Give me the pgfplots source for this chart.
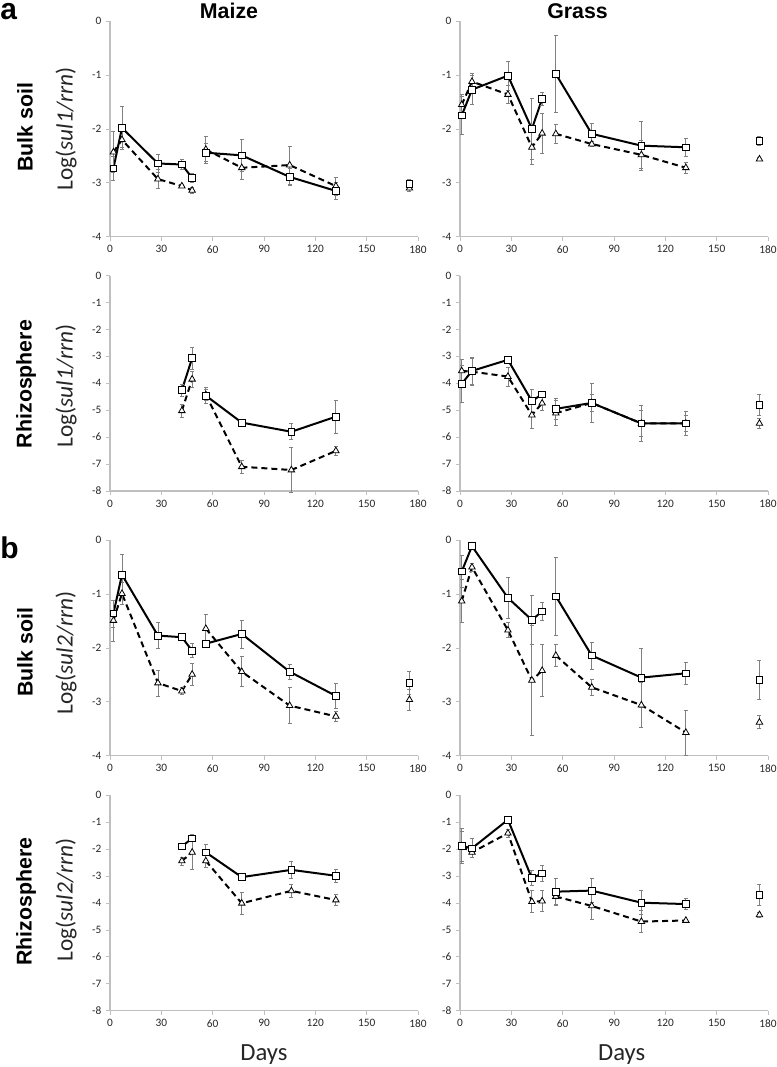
\documentclass[border=0pt]{standalone}
\usepackage{pgfplots}
\pgfplotsset{compat=1.18}
\usepackage{fontspec}
\setmainfont{Carlito}
\newfontfamily\arialf{Liberation Sans}
\definecolor{axgray}{HTML}{BFBFBF}
\definecolor{errgray}{HTML}{808080}
\definecolor{txt}{HTML}{262626}
\pgfplotsset{
  panel/.style={width=231pt,height=161.6pt,scale only axis,anchor=south west,
    xmin=0,xmax=180,xtick={0,30,...,180},
    axis lines*=left, axis line style={draw=axgray,line width=0.8pt},
    tick style={draw=axgray,line width=0.6pt}, tick align=outside, major tick length=3pt,
    ticklabel style={font=\fontsize{8.5}{10}\selectfont,text=txt},
    /pgf/number format/assume math mode=true,
    clip=false, unbounded coords=jump},
  r4/.style={ymin=-4,ymax=0,ytick={-4,...,0}},
  r8/.style={ymin=-8,ymax=0,ytick={-8,...,0}},
  sq/.style={black,line width=1.5pt,solid,mark=square*,
    mark options={solid,fill=white,draw=black,line width=0.6pt,mark size=2.5pt},
    error bars/.cd,y dir=both,y explicit,
    error bar style={errgray,line width=0.6pt,solid},
    error mark options={rotate=90,errgray,mark size=1.5pt,line width=0.6pt,solid}},
  tr/.style={black,line width=1.5pt,dash pattern=on 4.5pt off 3pt,mark=triangle*,
    mark options={solid,fill=white,draw=black,line width=0.6pt,mark size=2.8pt},
    error bars/.cd,y dir=both,y explicit,
    error bar style={errgray,line width=0.6pt,solid},
    error mark options={rotate=90,errgray,mark size=1.5pt,line width=0.6pt,solid}},
}
\begin{document}
\begin{tikzpicture}[x=0.75pt,y=0.75pt]
\path[use as bounding box] (0,0) rectangle (777,-1067);
% ---------- Row 1 left: Maize bulk sul1
\begin{axis}[panel,r4,at={(82.5pt,-177.525pt)}]
\addplot+[tr] table[x=x,y=y,y error=e,row sep=\\]{x y e\\
2 -2.43 0.38\\ 7 -2.20 0.15\\ 28 -2.93 0.18\\ 42 -3.06 0.03\\ 48 -3.14 0.06\\ 52 nan 0\\
56 -2.38 0.25\\ 77 -2.72 0.22\\ 105 -2.67 0.35\\ 132 -3.06 0.17\\ 150 nan 0\\ 175 -3.10 0.05\\};
\addplot+[sq] table[x=x,y=y,y error=e,row sep=\\]{x y e\\
2 -2.73 0.22\\ 7 -1.98 0.40\\ 28 -2.64 0.17\\ 42 -2.66 0.09\\ 48 -2.91 0.08\\ 52 nan 0\\
56 -2.44 0.17\\ 77 -2.49 0.29\\ 105 -2.89 0.15\\ 132 -3.15 0.15\\ 150 nan 0\\ 175 -3.02 0.08\\};
\end{axis}
% ---------- Row 1 right: Grass bulk sul1
\begin{axis}[panel,r4,at={(345pt,-177.525pt)}]
\addplot+[tr] table[x=x,y=y,y error=e,row sep=\\]{x y e\\
1 -1.55 0.20\\ 7 -1.12 0.16\\ 28 -1.36 0.16\\ 42 -2.34 0.32\\ 48 -2.08 0.37\\ 52 nan 0\\
56 -2.09 0.17\\ 77 -2.28 0.05\\ 106 -2.48 0.26\\ 132 -2.72 0.10\\ 150 nan 0\\ 175 -2.56 0.03\\};
\addplot+[sq] table[x=x,y=y,y error=e,row sep=\\]{x y e\\
1 -1.75 0.35\\ 7 -1.27 0.27\\ 28 -1.01 0.27\\ 42 -2.00 0.57\\ 48 -1.44 0.12\\ 52 nan 0\\
56 -0.98 0.72\\ 77 -2.09 0.20\\ 106 -2.31 0.45\\ 132 -2.34 0.16\\ 150 nan 0\\ 175 -2.22 0.08\\};
\end{axis}
% ---------- Row 2 left: Maize rhizo sul1
\begin{axis}[panel,r8,at={(82.5pt,-368.25pt)}]
\addplot+[tr] table[x=x,y=y,y error=e,row sep=\\]{x y e\\
42 -5.02 0.25\\ 48 -3.85 0.30\\ 52 nan 0\\ 56 -4.43 0.20\\ 77 -7.10 0.25\\ 106 -7.22 0.85\\ 132 -6.51 0.15\\};
\addplot+[sq] table[x=x,y=y,y error=e,row sep=\\]{x y e\\
42 -4.25 0.22\\ 48 -3.07 0.42\\ 52 nan 0\\ 56 -4.46 0.30\\ 77 -5.46 0.12\\ 106 -5.80 0.30\\ 132 -5.24 0.62\\};
\end{axis}
% ---------- Row 2 right: Grass rhizo sul1
\begin{axis}[panel,r8,at={(345pt,-368.25pt)}]
\addplot+[tr] table[x=x,y=y,y error=e,row sep=\\]{x y e\\
1 -3.54 0.42\\ 7 -3.57 0.50\\ 28 -3.75 0.35\\ 42 -5.18 0.50\\ 48 -4.74 0.25\\ 52 nan 0\\
56 -5.11 0.47\\ 77 -4.73 0.30\\ 106 -5.49 0.50\\ 132 -5.49 0.30\\ 150 nan 0\\ 175 -5.49 0.18\\};
\addplot+[sq] table[x=x,y=y,y error=e,row sep=\\]{x y e\\
1 -4.02 0.70\\ 7 -3.54 0.50\\ 28 -3.13 0.04\\ 42 -4.66 0.45\\ 48 -4.41 0.06\\ 52 nan 0\\
56 -4.95 0.40\\ 77 -4.73 0.72\\ 106 -5.49 0.67\\ 132 -5.49 0.45\\ 150 nan 0\\ 175 -4.80 0.38\\};
\end{axis}
% ---------- Row 3 left: Maize bulk sul2
\begin{axis}[panel,r4,at={(82.5pt,-566.775pt)}]
\addplot+[tr] table[x=x,y=y,y error=e,row sep=\\]{x y e\\
2 -1.49 0.38\\ 7 -0.99 0.20\\ 28 -2.65 0.24\\ 42 -2.80 0.07\\ 48 -2.49 0.20\\ 52 nan 0\\
56 -1.64 0.26\\ 77 -2.44 0.28\\ 105 -3.07 0.33\\ 132 -3.27 0.10\\ 150 nan 0\\ 175 -2.96 0.20\\};
\addplot+[sq] table[x=x,y=y,y error=e,row sep=\\]{x y e\\
2 -1.36 0.25\\ 7 -0.64 0.38\\ 28 -1.77 0.24\\ 42 -1.80 0.05\\ 48 -2.05 0.13\\ 52 nan 0\\
56 -1.92 0.03\\ 77 -1.74 0.26\\ 105 -2.44 0.14\\ 132 -2.89 0.24\\ 150 nan 0\\ 175 -2.65 0.22\\};
\end{axis}
% ---------- Row 3 right: Grass bulk sul2
\begin{axis}[panel,r4,at={(345pt,-566.775pt)}]
\addplot+[tr] table[x=x,y=y,y error=e,row sep=\\]{x y e\\
1 -1.13 0.40\\ 7 -0.50 0.07\\ 28 -1.67 0.14\\ 42 -2.60 1.02\\ 48 -2.42 0.48\\ 52 nan 0\\
56 -2.14 0.20\\ 77 -2.73 0.15\\ 106 -3.06 0.42\\ 132 -3.57 0.42\\ 150 nan 0\\ 175 -3.38 0.12\\};
\addplot+[sq] table[x=x,y=y,y error=e,row sep=\\]{x y e\\
1 -0.58 0.30\\ 7 -0.11 0.03\\ 28 -1.07 0.38\\ 42 -1.48 0.45\\ 48 -1.32 0.17\\ 52 nan 0\\
56 -1.04 0.73\\ 77 -2.14 0.25\\ 106 -2.55 0.55\\ 132 -2.47 0.20\\ 150 nan 0\\ 175 -2.59 0.36\\};
\end{axis}
% ---------- Row 4 left: Maize rhizo sul2
\begin{axis}[panel,r8,at={(82.5pt,-758.025pt)}]
\addplot+[tr] table[x=x,y=y,y error=e,row sep=\\]{x y e\\
42 -2.44 0.15\\ 48 -2.12 0.65\\ 52 nan 0\\ 56 -2.44 0.25\\ 77 -4.01 0.40\\ 106 -3.55 0.25\\ 132 -3.89 0.20\\};
\addplot+[sq] table[x=x,y=y,y error=e,row sep=\\]{x y e\\
42 -1.90 0.07\\ 48 -1.60 0.10\\ 52 nan 0\\ 56 -2.12 0.30\\ 77 -3.04 0.03\\ 106 -2.77 0.30\\ 132 -2.99 0.25\\};
\end{axis}
% ---------- Row 4 right: Grass rhizo sul2
\begin{axis}[panel,r8,at={(345pt,-758.025pt)}]
\addplot+[tr] table[x=x,y=y,y error=e,row sep=\\]{x y e\\
1 -1.90 0.55\\ 7 -2.12 0.20\\ 28 -1.41 0.15\\ 42 -3.95 0.40\\ 48 -3.93 0.40\\ 52 nan 0\\
56 -3.76 0.30\\ 77 -4.11 0.50\\ 106 -4.69 0.40\\ 132 -4.65 0.03\\ 150 nan 0\\ 175 -4.44 0.10\\};
\addplot+[sq] table[x=x,y=y,y error=e,row sep=\\]{x y e\\
1 -1.88 0.65\\ 7 -1.97 0.35\\ 28 -0.91 0.04\\ 42 -3.08 0.28\\ 48 -2.90 0.30\\ 52 nan 0\\
56 -3.58 0.50\\ 77 -3.54 0.45\\ 106 -3.99 0.45\\ 132 -4.04 0.20\\ 150 nan 0\\ 175 -3.70 0.40\\};
\end{axis}
% ---------- Texts
\node[anchor=base west,inner sep=0,font=\arialf\bfseries\fontsize{22.5}{24}\selectfont] at (0,-19.5) {a};
\node[anchor=base west,inner sep=0,font=\arialf\bfseries\fontsize{22.5}{24}\selectfont] at (0,-558) {b};
\node[anchor=base,inner sep=0,font=\arialf\bfseries\fontsize{16}{18}\selectfont] at (229,-18) {Maize};
\node[anchor=base,inner sep=0,font=\arialf\bfseries\fontsize{16}{18}\selectfont] at (577.5,-18) {Grass};
\node[anchor=center,inner sep=0,rotate=90,font=\arialf\bfseries\fontsize{16}{18}\selectfont] at (25,-127.5) {Bulk soil};
\node[anchor=center,inner sep=0,rotate=90,font=\arialf\bfseries\fontsize{16}{18}\selectfont] at (26,-384) {Rhizosphere};
\node[anchor=center,inner sep=0,rotate=90,font=\arialf\bfseries\fontsize{16}{18}\selectfont] at (25,-652.5) {Bulk soil};
\node[anchor=center,inner sep=0,rotate=90,font=\arialf\bfseries\fontsize{16}{18}\selectfont] at (26,-901.7) {Rhizosphere};
\node[anchor=center,inner sep=0,rotate=90,text=txt,font=\fontsize{17.5}{20}\selectfont] at (66,-129) {Log(\textit{sul1/rrn})};
\node[anchor=center,inner sep=0,rotate=90,text=txt,font=\fontsize{17.5}{20}\selectfont] at (66,-386) {Log(\textit{sul1/rrn})};
\node[anchor=center,inner sep=0,rotate=90,text=txt,font=\fontsize{17.5}{20}\selectfont] at (66,-653) {Log(\textit{sul2/rrn})};
\node[anchor=center,inner sep=0,rotate=90,text=txt,font=\fontsize{17.5}{20}\selectfont] at (66,-900) {Log(\textit{sul2/rrn})};
\node[anchor=center,inner sep=0,text=txt,font=\fontsize{18.5}{20}\selectfont] at (264,-1055) {Days};
\node[anchor=center,inner sep=0,text=txt,font=\fontsize{18.5}{20}\selectfont] at (621.7,-1055) {Days};
\end{tikzpicture}
\end{document}
